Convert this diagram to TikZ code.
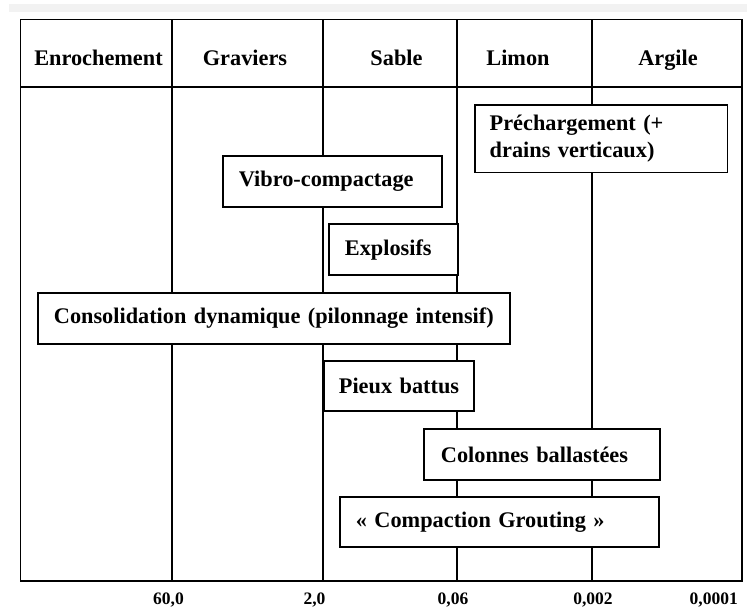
\documentclass[tikz,border=0pt]{standalone}
\usepackage{fontspec}
\setmainfont{Liberation Serif}
\newcommand{\boxfont}{\bfseries\fontsize{22.3}{27}\selectfont}
\newcommand{\numfont}{\bfseries\fontsize{17.5}{20}\selectfont}
\begin{document}
\begin{tikzpicture}[x=1pt,y=-1pt,
  grid/.style={line width=1.8pt, line cap=rect},
  box/.style={draw, line width=1.8pt, fill=white, anchor=north west,
    inner ysep=0pt, align=left, font=\boxfont},
  hdr/.style={anchor=base, inner sep=0pt, font=\boxfont},
  num/.style={anchor=base, inner sep=0pt, font=\numfont}]
\useasboundingbox (0,0) rectangle (747,607);
\fill[black!5] (9,4) rectangle (747,12);
% frame and grid
\coordinate (tl) at (20.5,19.5);
\coordinate (br) at (742,581);
\draw[grid] (tl) rectangle (br);
\draw[grid] (20.5,87) -- (742,87);
\foreach \x/\n in {172/a,323/b,457/c,592/d}{
  \coordinate (t\n) at (\x,19.5);
  \coordinate (b\n) at (\x,581);
  \draw[grid] (t\n) -- (b\n);
}
% headers
\node[hdr] (h1) at (98.5,65.5) {Enrochement};
\node[hdr] (h2) at (245,65.5) {Graviers};
\node[hdr] (h3) at (396.5,65.5) {Sable};
\node[hdr] (h4) at (518,65.5) {Limon};
\node[hdr] (h5) at (668,65.5) {Argile};
% boxes
\node[box, minimum width=252.5pt, minimum height=67pt, inner xsep=14.8pt, text width=222.9pt] (pre) at (474,104.5)
  {Préchargement (+\\drains verticaux)};
\node[box, minimum width=219pt, minimum height=50.7pt, inner xsep=16.3pt, text width=186.4pt] (vib) at (221.7,155)
  {\mbox{Vibro-compactage}};
\node[box, minimum width=128.7pt, minimum height=50.7pt, inner xsep=15.7pt, text width=97.3pt] (exp) at (328.3,223.3)
  {\mbox{Explosifs}};
\node[box, minimum width=472.3pt, minimum height=50.4pt, inner xsep=16.3pt, text width=439.7pt] (con) at (36.7,292.3)
  {\mbox{Consolidation dynamique (pilonnage intensif)}};
\node[box, minimum width=149.7pt, minimum height=50pt, inner xsep=14.7pt, text width=120.3pt] (pie) at (323.3,360)
  {\mbox{Pieux battus}};
\node[box, minimum width=236pt, minimum height=50.7pt, inner xsep=16.7pt, text width=202.6pt] (col) at (423.3,428.3)
  {\mbox{Colonnes ballastées}};
\node[box, minimum width=319pt, minimum height=50pt, inner xsep=15.7pt, text width=287.6pt] (gro) at (339.3,496)
  {\mbox{« Compaction Grouting »}};
% bottom scale
\node[num] (n1) at (168.5,604.5) {60,0};
\node[num] (n2) at (314.5,604.5) {2,0};
\node[num] (n3) at (453,604.5) {0,06};
\node[num] (n4) at (593,604.5) {0,002};
\node[num] (n5) at (713.7,604.5) {0,0001};
\end{tikzpicture}
\end{document}
